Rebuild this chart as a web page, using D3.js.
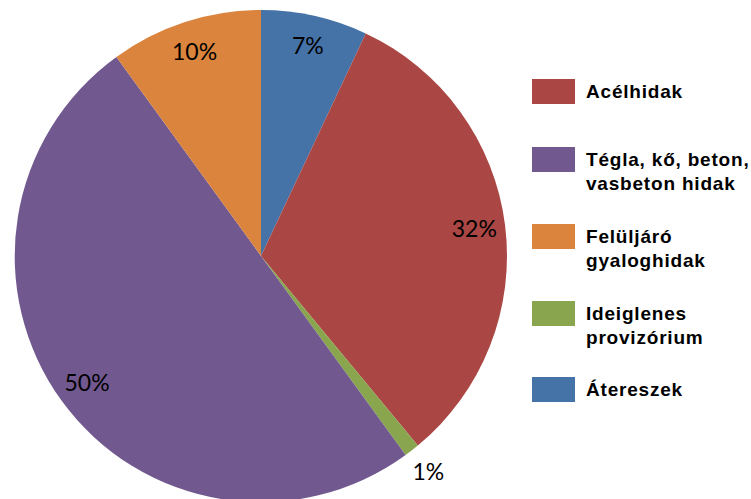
<!DOCTYPE html>
<html lang="hu">
<head>
    <meta charset="UTF-8">
    <title>Hidak megoszlása</title>
    <script src="https://d3js.org/d3.v7.min.js"></script>
    <style>
        html, body { margin: 0; padding: 0; background: #fff; }
        svg { display: block; }
    </style>
</head>
<body>
<svg></svg>
<script>
    // slices in drawing order, clockwise from 12 o'clock
    const sliceNames = ["Átereszek", "Acélhidak", "Ideiglenes provizórium", "Tégla, kő, beton, vasbeton hidak", "Felüljáró gyaloghidak"];
    const sliceValues = [7, 32, 1, 50, 10];
    const sliceColors = ["#4572A7", "#AA4643", "#89A54E", "#71588F", "#DB843D"];

    // legend order as in the picture
    const legendItems = [
        ["Acélhidak"],
        ["Tégla, kő, beton,", "vasbeton hidak"],
        ["Felüljáró", "gyaloghidak"],
        ["Ideiglenes", "provizórium"],
        ["Átereszek"]
    ];
    const legendColors = ["#AA4643", "#71588F", "#DB843D", "#89A54E", "#4572A7"];

    const width = 751, height = 499;
    const cx = 261, cy = 256, radius = 246;

    const svg = d3.select("svg").attr("width", width).attr("height", height);

    const data = sliceNames.map(function(name, i) {
        return {name: name, value: sliceValues[i], color: sliceColors[i]};
    });

    const pie = d3.pie().sort(null).value(function(d) { return d.value; });
    const arc = d3.arc().innerRadius(0).outerRadius(radius);
    const labelArc = d3.arc().innerRadius(215).outerRadius(215);
    const outerLabelArc = d3.arc().innerRadius(radius + 27).outerRadius(radius + 27);

    const total = d3.sum(sliceValues);
    const arcs = pie(data);

    const g = svg.append("g").attr("transform", "translate(" + cx + "," + cy + ")");

    g.selectAll("path")
        .data(arcs)
        .enter().append("path")
        .attr("d", arc)
        .attr("fill", function(d) { return d.data.color; });

    g.selectAll("text")
        .data(arcs)
        .enter().append("text")
        .attr("transform", function(d) {
            const a = (d.data.value / total < 0.03) ? outerLabelArc : labelArc;
            return "translate(" + a.centroid(d) + ")";
        })
        .attr("text-anchor", "middle")
        .attr("dy", "0.36em")
        .style("font-family", "Lato, 'Open Sans', sans-serif")
        .style("font-size", "23px")
        .style("fill", "#000")
        .text(function(d) { return Math.round(d.data.value / total * 100) + "%"; });

    // legend
    const legendTop = [79, 147, 224, 301, 377];
    const legend = svg.append("g");

    legendItems.forEach(function(lines, i) {
        const row = legend.append("g").attr("transform", "translate(532," + legendTop[i] + ")");
        row.append("rect")
            .attr("width", 43)
            .attr("height", 25)
            .attr("fill", legendColors[i]);
        const t = row.append("text")
            .attr("x", 54)
            .attr("y", 19)
            .style("font-family", "'Liberation Sans', Arial, sans-serif")
            .style("font-weight", "bold")
            .style("font-size", "19px")
            .style("letter-spacing", "0.8px")
            .style("fill", "#000");
        lines.forEach(function(line, j) {
            t.append("tspan").attr("x", 54).attr("dy", j === 0 ? 0 : 24).text(line);
        });
    });
</script>
</body>
</html>
